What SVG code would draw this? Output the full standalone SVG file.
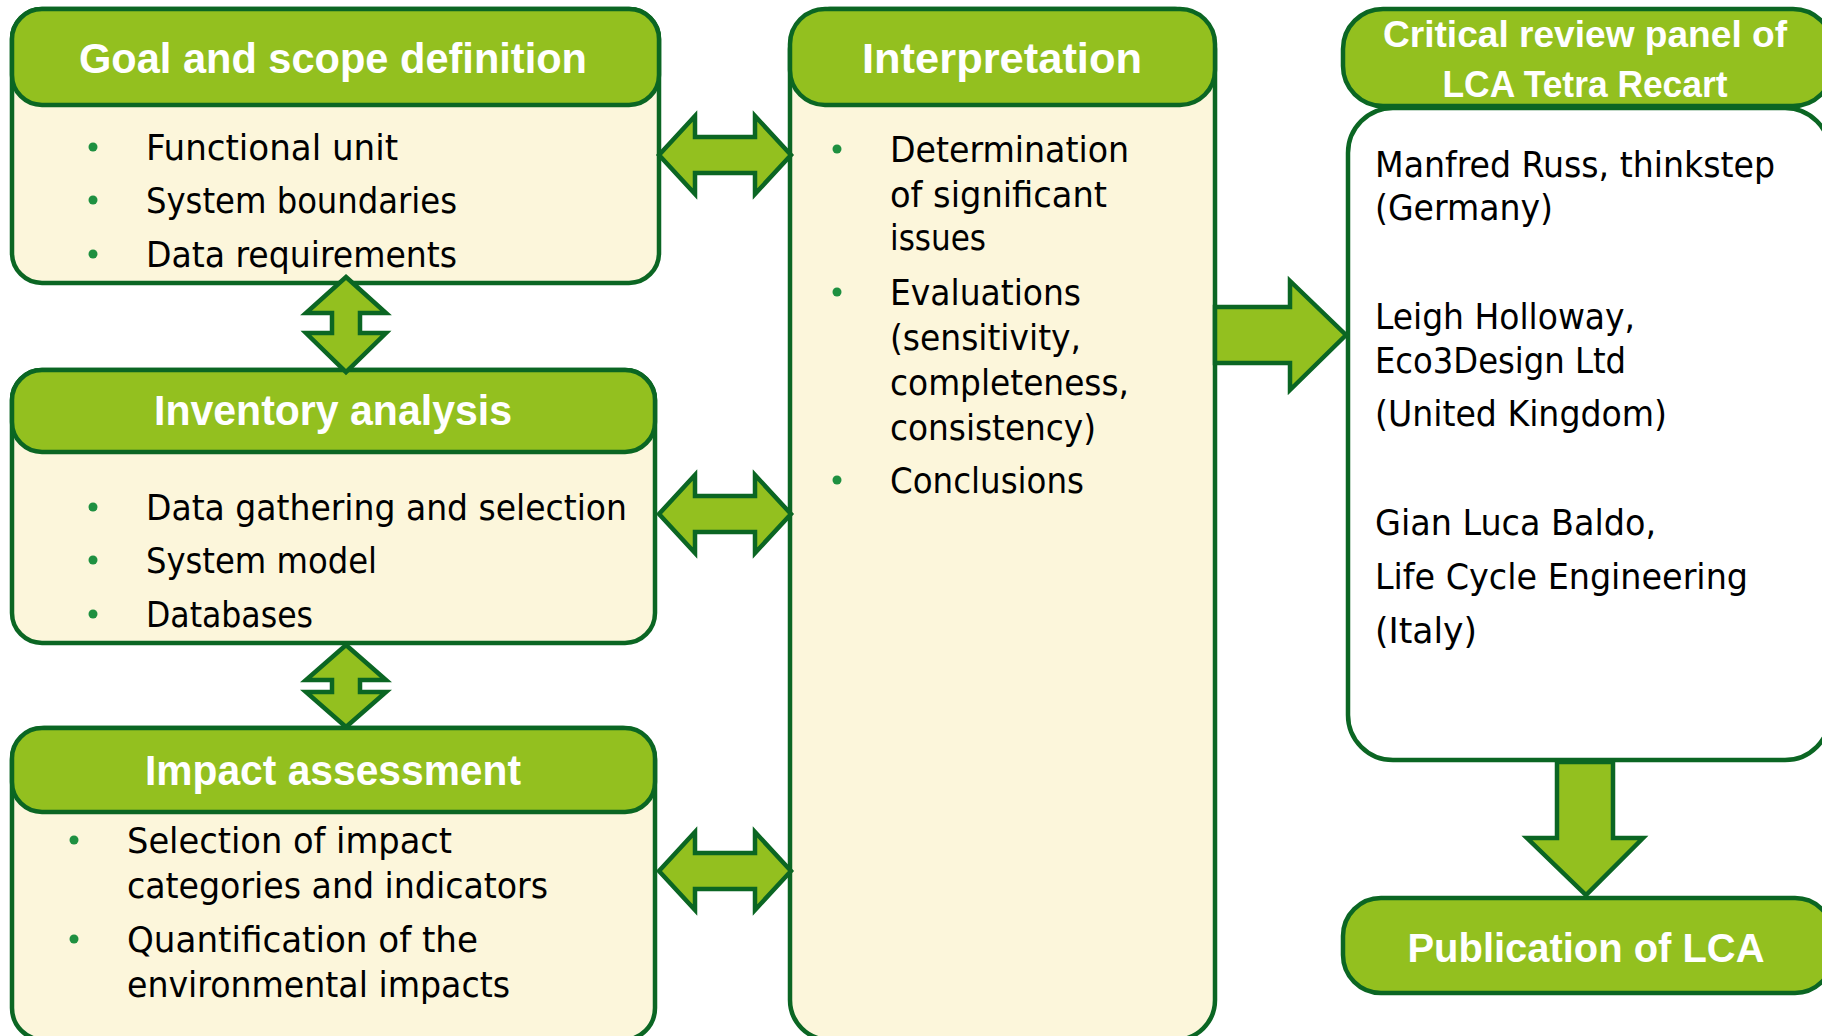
<svg xmlns="http://www.w3.org/2000/svg" width="1822" height="1036" viewBox="0 0 1822 1036">
<style>
.body{fill:#FCF6DB;stroke:#0B6623;stroke-width:4.5}
.white{fill:#FFFFFF;stroke:#0B6623;stroke-width:4.5}
.head{fill:#93C01F;stroke:#0B6623;stroke-width:4.5}
.arrow{fill:#93C01F;stroke:#0B6623;stroke-width:4.5;stroke-linejoin:miter}
.title{font-family:"Liberation Sans",Arial,sans-serif;font-weight:bold;fill:#FFFFFF;text-anchor:middle}
.txt{font-family:"DejaVu Sans Condensed","DejaVu Sans",sans-serif;font-stretch:condensed;font-size:36px;fill:#000000}
.dot{fill:#1E9040}
</style>
<rect width="1822" height="1036" fill="#FFFFFF"/>

<g id="goal">
<rect class="body" x="12" y="9" width="647" height="274" rx="30"/>
<rect class="head" x="12" y="9" width="647" height="96" rx="30"/>
<text class="title" x="333" y="73" font-size="42" textLength="508" lengthAdjust="spacingAndGlyphs">Goal and scope definition</text>
<circle class="dot" cx="93" cy="147" r="4.5"/>
<circle class="dot" cx="93" cy="200" r="4.5"/>
<circle class="dot" cx="93" cy="254" r="4.5"/>
<text class="txt" x="146" y="160" textLength="252" lengthAdjust="spacingAndGlyphs">Functional unit</text>
<text class="txt" x="146" y="213" textLength="311" lengthAdjust="spacingAndGlyphs">System boundaries</text>
<text class="txt" x="146" y="267" textLength="311" lengthAdjust="spacingAndGlyphs">Data requirements</text>
</g>

<g id="inventory">
<rect class="body" x="12" y="370" width="643" height="273" rx="30"/>
<rect class="head" x="12" y="370" width="643" height="82" rx="30"/>
<text class="title" x="333" y="425" font-size="42" textLength="358" lengthAdjust="spacingAndGlyphs">Inventory analysis</text>
<circle class="dot" cx="93" cy="507" r="4.5"/>
<circle class="dot" cx="93" cy="560" r="4.5"/>
<circle class="dot" cx="93" cy="614" r="4.5"/>
<text class="txt" x="146" y="520" textLength="481" lengthAdjust="spacingAndGlyphs">Data gathering and selection</text>
<text class="txt" x="146" y="573" textLength="231" lengthAdjust="spacingAndGlyphs">System model</text>
<text class="txt" x="146" y="627" textLength="167" lengthAdjust="spacingAndGlyphs">Databases</text>
</g>

<g id="impact">
<rect class="body" x="12" y="728" width="643" height="312" rx="32"/>
<rect class="head" x="12" y="728" width="643" height="84" rx="30"/>
<text class="title" x="333" y="785" font-size="42" textLength="376" lengthAdjust="spacingAndGlyphs">Impact assessment</text>
<circle class="dot" cx="74" cy="840" r="4.5"/>
<circle class="dot" cx="74" cy="939" r="4.5"/>
<text class="txt" x="127" y="853" textLength="325" lengthAdjust="spacingAndGlyphs">Selection of impact</text>
<text class="txt" x="127" y="898" textLength="421" lengthAdjust="spacingAndGlyphs">categories and indicators</text>
<text class="txt" x="127" y="952" textLength="351" lengthAdjust="spacingAndGlyphs">Quantification of the</text>
<text class="txt" x="127" y="997" textLength="383" lengthAdjust="spacingAndGlyphs">environmental impacts</text>
</g>

<g id="interpretation">
<rect class="body" x="790" y="9" width="425" height="1031" rx="40"/>
<rect class="head" x="790" y="9" width="425" height="96" rx="35"/>
<text class="title" x="1002" y="73" font-size="42" textLength="280" lengthAdjust="spacingAndGlyphs">Interpretation</text>
<circle class="dot" cx="837" cy="149" r="4.5"/>
<circle class="dot" cx="837" cy="292" r="4.5"/>
<circle class="dot" cx="837" cy="480" r="4.5"/>
<text class="txt" x="890" y="162" textLength="239" lengthAdjust="spacingAndGlyphs">Determination</text>
<text class="txt" x="890" y="207" textLength="217" lengthAdjust="spacingAndGlyphs">of significant</text>
<text class="txt" x="890" y="250" textLength="96" lengthAdjust="spacingAndGlyphs">issues</text>
<text class="txt" x="890" y="305" textLength="191" lengthAdjust="spacingAndGlyphs">Evaluations</text>
<text class="txt" x="890" y="350" textLength="191" lengthAdjust="spacingAndGlyphs">(sensitivity,</text>
<text class="txt" x="890" y="395" textLength="239" lengthAdjust="spacingAndGlyphs">completeness,</text>
<text class="txt" x="890" y="440" textLength="206" lengthAdjust="spacingAndGlyphs">consistency)</text>
<text class="txt" x="890" y="493" textLength="194" lengthAdjust="spacingAndGlyphs">Conclusions</text>
</g>

<g id="critical-review">
<rect class="white" x="1348" y="108" width="482" height="652" rx="45"/>
<rect class="head" x="1343" y="9" width="490" height="97" rx="40"/>
<text class="title" x="1585" y="47" font-size="37" textLength="404" lengthAdjust="spacingAndGlyphs">Critical review panel of</text>
<text class="title" x="1585" y="97" font-size="37" textLength="285" lengthAdjust="spacingAndGlyphs">LCA Tetra Recart</text>
<text class="txt" x="1375" y="177" textLength="400" lengthAdjust="spacingAndGlyphs">Manfred Russ, thinkstep</text>
<text class="txt" x="1375" y="220" textLength="178" lengthAdjust="spacingAndGlyphs">(Germany)</text>
<text class="txt" x="1375" y="329" textLength="260" lengthAdjust="spacingAndGlyphs">Leigh Holloway,</text>
<text class="txt" x="1375" y="373" textLength="251" lengthAdjust="spacingAndGlyphs">Eco3Design Ltd</text>
<text class="txt" x="1375" y="426" textLength="292" lengthAdjust="spacingAndGlyphs">(United Kingdom)</text>
<text class="txt" x="1375" y="535" textLength="281" lengthAdjust="spacingAndGlyphs">Gian Luca Baldo,</text>
<text class="txt" x="1375" y="589" textLength="373" lengthAdjust="spacingAndGlyphs">Life Cycle Engineering</text>
<text class="txt" x="1375" y="643" textLength="102" lengthAdjust="spacingAndGlyphs">(Italy)</text>
</g>

<g id="publication">
<rect class="head" x="1343" y="898" width="490" height="95" rx="38"/>
<text class="title" x="1586" y="962" font-size="40" textLength="357" lengthAdjust="spacingAndGlyphs">Publication of LCA</text>
</g>

<g id="connectors">
<polygon class="arrow" points="659,155 695,116 695,137 755,137 755,116 791,155 755,194 755,173 695,173 695,194"/>
<polygon class="arrow" points="659,514 695,475 695,496 755,496 755,475 791,514 755,553 755,532 695,532 695,553"/>
<polygon class="arrow" points="659,871 695,832 695,853 755,853 755,832 791,871 755,910 755,889 695,889 695,910"/>
<polygon class="arrow" points="346,277 386,313 360,313 360,333 386,333 346,372 306,333 332,333 332,313 306,313"/>
<polygon class="arrow" points="346,645 386,680 360,680 360,692 386,692 346,727 306,692 332,692 332,680 306,680"/>
<polygon class="arrow" points="1215,307 1290,307 1290,281 1346,335 1290,390 1290,363 1215,363"/>
<polygon class="arrow" points="1557,762 1613,762 1613,838 1643,838 1586,895 1527,838 1557,838"/>
</g>
</svg>
